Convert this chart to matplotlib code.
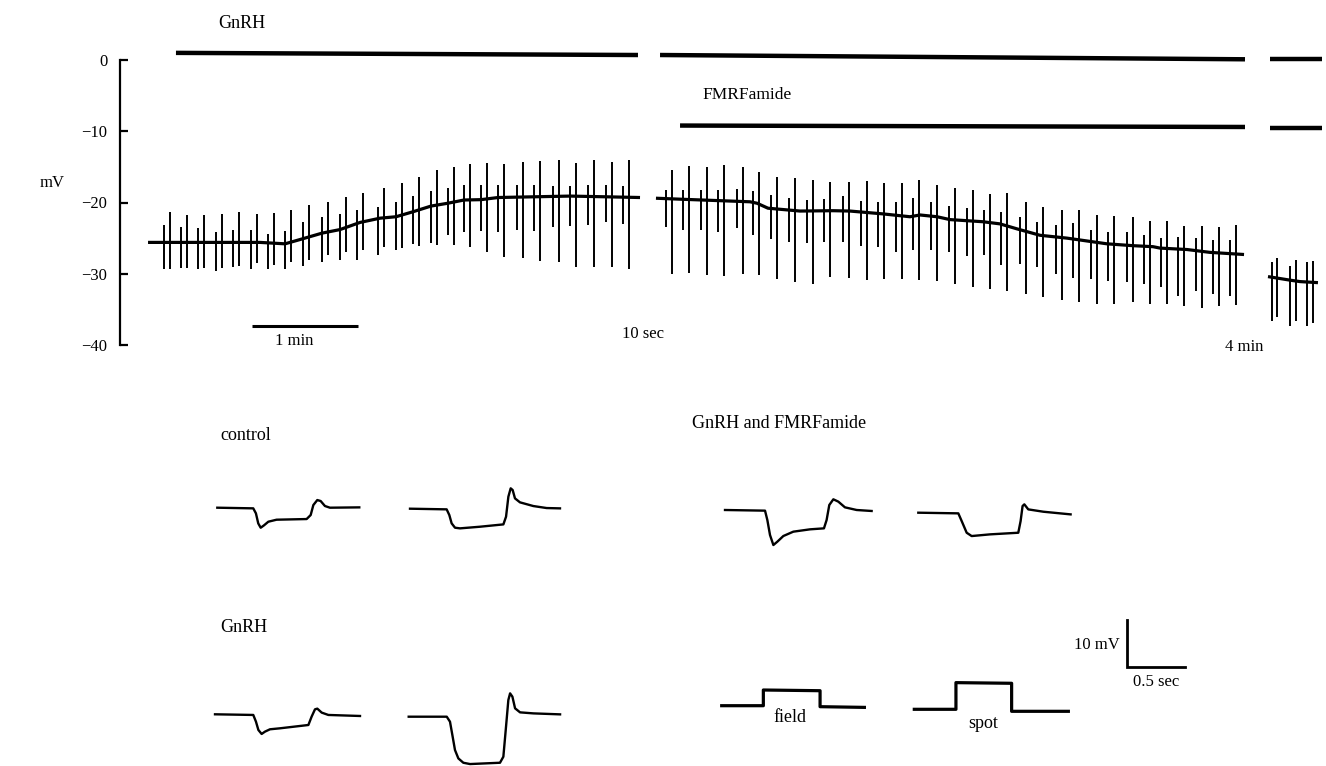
import matplotlib
matplotlib.use("Agg")
import matplotlib.pyplot as plt
import numpy as np

plt.rcParams['font.family'] = ['Liberation Serif', 'DejaVu Serif']
plt.rcParams['axes.unicode_minus'] = True

W, H = 1326, 766

# --- top record: membrane potential (mV) vs time (min, as laid out) ---
y_ticks = [0, -10, -20, -30, -40]

# segment 1 (GnRH)
seg1_field_t = [0.411, 0.570, 0.729, 0.897, 1.056, 1.224, 1.383, 1.542, 1.710, 1.888,
                2.056, 2.215, 2.411, 2.579, 2.741, 2.907, 3.063, 3.215, 3.374, 3.536,
                3.707, 3.869, 4.044, 4.206, 4.377, 4.542, 4.704]
seg1_spot_t = [0.467, 0.626, 0.785, 0.953, 1.112, 1.280, 1.439, 1.598, 1.766, 1.944,
               2.112, 2.271, 2.467, 2.635, 2.797, 2.963, 3.119, 3.271, 3.430, 3.592,
               3.763, 3.925, 4.100, 4.262, 4.433, 4.598, 4.760]
seg1_field_top = [-23.2, -23.5, -23.6, -24.1, -23.8, -23.9, -24.4, -24.0, -22.8, -22.1,
                  -21.6, -21.1, -20.6, -19.9, -19.1, -18.4, -17.9, -17.6, -17.6, -17.6,
                  -17.5, -17.6, -17.7, -17.7, -17.6, -17.6, -17.7]
seg1_field_bot = [-29.4, -29.2, -29.3, -29.6, -29.0, -29.4, -29.4, -29.4, -28.9, -28.3,
                  -28.0, -28.0, -27.3, -26.6, -25.8, -25.7, -24.6, -24.2, -24.0, -24.1,
                  -23.8, -24.0, -23.4, -23.3, -23.2, -22.8, -23.0]
seg1_spot_top = [-21.3, -21.7, -21.8, -21.6, -21.4, -21.6, -21.5, -21.1, -20.4, -19.9,
                 -19.2, -18.6, -18.0, -17.3, -16.4, -15.5, -15.0, -14.6, -14.5, -14.6,
                 -14.3, -14.2, -14.1, -14.4, -14.1, -14.3, -14.1]
seg1_spot_bot = [-29.4, -29.2, -29.2, -29.2, -28.9, -28.5, -28.8, -28.3, -28.1, -27.4,
                 -26.9, -26.7, -26.2, -26.4, -26.1, -26.0, -26.0, -26.2, -27.0, -27.6,
                 -27.8, -28.2, -28.3, -29.0, -29.0, -29.0, -29.3]
seg1_base_t = [0.262, 0.748, 1.308, 1.542, 1.682, 1.888, 2.056, 2.243, 2.430, 2.579,
               2.738, 2.907, 3.065, 3.215, 3.374, 3.533, 3.869, 4.206, 4.542, 4.860]
seg1_base_v = [-25.6, -25.6, -25.6, -25.8, -25.2, -24.3, -23.8, -22.8, -22.2, -22.0,
               -21.3, -20.5, -20.1, -19.65, -19.6, -19.3, -19.2, -19.1, -19.2, -19.3]

# segment 2 (GnRH + FMRFamide)
seg2_field_t = [5.100, 5.264, 5.430, 5.592, 5.764, 5.919, 6.084, 6.255, 6.423, 6.582,
                6.754, 6.923, 7.084, 7.250, 7.414, 7.579, 7.748, 7.913, 8.075, 8.234,
                8.411, 8.567, 8.745, 8.909, 9.072, 9.237, 9.409, 9.570, 9.726, 9.885,
                10.053, 10.218, 10.374]
seg2_spot_t = [5.156, 5.320, 5.486, 5.648, 5.820, 5.975, 6.140, 6.311, 6.479, 6.638,
               6.810, 6.979, 7.140, 7.306, 7.470, 7.635, 7.804, 7.969, 8.131, 8.290,
               8.467, 8.623, 8.801, 8.965, 9.128, 9.293, 9.465, 9.626, 9.782, 9.941,
               10.109, 10.274, 10.430]
seg2_field_top = [-18.3, -18.2, -18.3, -18.2, -18.1, -18.4, -18.9, -19.3, -19.7, -19.5,
                  -19.1, -19.8, -19.9, -19.9, -19.4, -19.9, -20.5, -20.8, -21.0, -21.4,
                  -22.1, -22.8, -23.1, -22.9, -23.8, -24.1, -24.2, -24.5, -25.0, -24.9,
                  -25.0, -25.2, -25.2]
seg2_field_bot = [-23.5, -23.8, -23.8, -24.1, -23.6, -24.6, -25.1, -25.5, -25.7, -25.6,
                  -25.6, -26.1, -26.3, -26.9, -26.7, -26.6, -26.9, -27.5, -27.3, -28.8,
                  -28.6, -29.1, -30.0, -30.6, -30.8, -31.0, -31.1, -31.4, -31.8, -33.1,
                  -32.4, -32.8, -33.1]
seg2_spot_top = [-15.4, -14.9, -15.0, -14.8, -15.0, -15.7, -16.4, -16.6, -16.8, -17.1,
                 -17.1, -17.0, -17.2, -17.3, -16.9, -17.6, -17.9, -18.3, -18.8, -18.7,
                 -19.9, -20.7, -21.0, -21.1, -21.8, -21.9, -22.1, -22.6, -22.6, -23.3,
                 -23.3, -23.5, -23.2]
seg2_spot_bot = [-30.0, -29.9, -30.2, -30.3, -30.1, -30.2, -30.8, -31.2, -31.4, -30.4,
                 -30.6, -30.9, -30.8, -30.8, -30.9, -31.0, -31.4, -31.8, -32.1, -32.4,
                 -32.8, -33.2, -33.7, -33.9, -34.3, -34.2, -33.9, -34.2, -34.3, -34.5,
                 -34.8, -34.5, -34.4]
seg2_base_t = [5.009, 5.262, 5.888, 5.953, 6.056, 6.355, 6.664, 6.822, 7.131, 7.383,
               7.477, 7.636, 7.757, 8.065, 8.224, 8.383, 8.598, 8.850, 9.037, 9.224,
               9.467, 9.654, 9.720, 9.972, 10.187, 10.505]
seg2_base_v = [-19.4, -19.55, -19.9, -20.1, -20.8, -21.2, -21.15, -21.2, -21.6, -22.0,
               -21.75, -22.0, -22.4, -22.7, -23.0, -23.7, -24.6, -25.0, -25.4, -25.8,
               -26.06, -26.2, -26.4, -26.6, -27.0, -27.3]

# segment 3 (after 4 min)
seg3_field_t = [10.764, 10.935, 11.093]
seg3_spot_t = [10.816, 10.988, 11.152]
seg3_field_top = [-28.3, -28.9, -28.4]
seg3_field_bot = [-36.7, -37.4, -37.4]
seg3_spot_top = [-27.8, -28.0, -28.2]
seg3_spot_bot = [-36.0, -36.7, -36.9]
seg3_base_t = [10.729, 10.935, 11.028, 11.196]
seg3_base_v = [-30.4, -30.9, -31.1, -31.25]

# application bars (start, end, level start, level end)
gnrh_bars = [(0.523, 4.841, 1.0, 0.7), (5.047, 10.514, 0.7, 0.1), (10.748, 11.234, 0.1, 0.1)]
fmrf_bars = [(5.234, 10.514, -9.2, -9.4), (10.748, 11.234, -9.5, -9.5)]
min_bar = (1.234, 2.224, -37.3)

# --- bottom panels: single responses (t in s, v in mV relative to rest) ---
ctrl1_t = [0, 0.310, 0.333, 0.353, 0.374, 0.402, 0.440, 0.511, 0.770, 0.805, 0.828, 0.862, 0.891, 0.928, 0.971, 1.224]
ctrl1_v = [0, -0.14, -1.21, -3.36, -4.29, -3.79, -3.0, -2.57, -2.43, -1.57, 0.57, 1.64, 1.43, 0.36, 0, 0.07]
ctrl2_t = [0, 0.316, 0.339, 0.359, 0.388, 0.431, 0.603, 0.805, 0.828, 0.848, 0.868, 0.885, 0.905, 0.948, 1.063, 1.178, 1.293]
ctrl2_v = [0, -0.14, -1.36, -3.14, -4.07, -4.21, -3.86, -3.36, -1.71, 2.57, 4.36, 4.0, 2.21, 1.36, 0.57, 0.14, 0.07]
gnrh1_t = [0, 0.330, 0.353, 0.374, 0.402, 0.431, 0.474, 0.560, 0.805, 0.833, 0.862, 0.882, 0.920, 0.977, 1.250]
gnrh1_v = [0, -0.14, -1.57, -3.36, -4.21, -3.71, -3.21, -3.0, -2.29, -0.5, 1.07, 1.21, 0.36, -0.14, -0.36]
gnrh2_t = [0, 0.328, 0.356, 0.379, 0.399, 0.428, 0.471, 0.529, 0.787, 0.816, 0.839, 0.859, 0.874, 0.894, 0.917, 0.960, 1.075, 1.305]
gnrh2_v = [0, 0, -1.07, -4.29, -7.14, -8.93, -9.86, -10.14, -9.86, -8.57, -2.14, 3.57, 5.0, 4.29, 1.79, 0.93, 0.71, 0.5]
both1_t = [0, 0.345, 0.365, 0.388, 0.417, 0.451, 0.503, 0.589, 0.733, 0.853, 0.876, 0.899, 0.934, 0.977, 1.034, 1.135, 1.264]
both1_v = [0, -0.14, -2.14, -5.36, -7.5, -6.79, -5.57, -4.64, -4.14, -3.93, -2.14, 1.07, 2.29, 1.79, 0.57, 0, -0.21]
both2_t = [0, 0.345, 0.374, 0.417, 0.460, 0.618, 0.862, 0.882, 0.899, 0.914, 0.948, 1.078, 1.313]
both2_v = [0, -0.14, -1.79, -4.29, -5.0, -4.64, -4.29, -1.79, 1.43, 1.79, 0.71, 0.21, -0.36]
field_t = [0, 0.359, 0.359, 0.848, 0.848, 1.230]
field_v = [0, 0, 3.36, 3.21, -0.21, -0.36]
spot_t = [0, 0.359, 0.359, 0.839, 0.839, 1.328]
spot_v = [0, 0, 5.71, 5.57, -0.43, -0.43]
scale_mv = 10
scale_s = 0.5


def fx(x):
    return x / W


def fy(y):
    return 1 - y / H


fig = plt.figure(figsize=(W / 100, H / 100), dpi=100)

# top axes: 0 mV at y=60 px, -40 mV at y=345 px, left spine at x=120 px, 107 px per min
ax = fig.add_axes([fx(120), fy(345), fx(W - 120), (345 - 60) / H])
ax.set_xlim(0, (W - 120) / 107)
ax.set_ylim(-40, 0)
for s in ['top', 'right', 'bottom']:
    ax.spines[s].set_visible(False)
ax.spines['left'].set_linewidth(1.6)
ax.set_xticks([])
ax.set_yticks(y_ticks)
ax.tick_params(axis='y', direction='in', length=5.5, width=1.6, pad=9, labelsize=12)
ax.patch.set_visible(False)

k = dict(color='black', clip_on=False)
for ft, fb, ftop, st, sb, stop, bt, bv in [
        (seg1_field_t, seg1_field_bot, seg1_field_top, seg1_spot_t, seg1_spot_bot, seg1_spot_top, seg1_base_t, seg1_base_v),
        (seg2_field_t, seg2_field_bot, seg2_field_top, seg2_spot_t, seg2_spot_bot, seg2_spot_top, seg2_base_t, seg2_base_v),
        (seg3_field_t, seg3_field_bot, seg3_field_top, seg3_spot_t, seg3_spot_bot, seg3_spot_top, seg3_base_t, seg3_base_v)]:
    ax.vlines(ft, fb, ftop, lw=1.4, **k)
    ax.vlines(st, sb, stop, lw=1.4, **k)
    ax.plot(bt, bv, lw=2.3, solid_capstyle='butt', **k)

for x0, x1, y0, y1 in gnrh_bars + fmrf_bars:
    ax.plot([x0, x1], [y0, y1], lw=3.2, solid_capstyle='butt', **k)
ax.plot([min_bar[0], min_bar[1]], [min_bar[2], min_bar[2]], lw=2.2, solid_capstyle='butt', **k)

tk = dict(fontsize=13, color='black')
fig.text(fx(218), fy(24), 'GnRH', va='center', ha='left', **tk)
fig.text(fx(702), fy(95), 'FMRFamide', va='center', ha='left', fontsize=12.5)
fig.text(fx(40), fy(183), 'mV', va='center', ha='left', fontsize=12)
fig.text(fx(294), fy(341), '1 min', va='center', ha='center', fontsize=12)
fig.text(fx(622), fy(334), '10 sec', va='center', ha='left', fontsize=12)
fig.text(fx(1225), fy(347), '4 min', va='center', ha='left', fontsize=12)

# bottom axes: 116 px per s, 4.67 px per mV, top edge at y=390 px
bx = fig.add_axes([0, 0, 1, (H - 390) / H])
bx.set_xlim(0, W / 116)
bx.set_ylim(-(H - 390) / 4.67, 0)
bx.axis('off')


def org(px, py):
    return px / 116, -(py - 390) / 4.67


traces = [((217.3, 507.7), ctrl1_t, ctrl1_v, 1.7),
          ((410.0, 508.7), ctrl2_t, ctrl2_v, 1.7),
          ((215.0, 714.3), gnrh1_t, gnrh1_v, 1.7),
          ((408.7, 716.7), gnrh2_t, gnrh2_v, 1.7),
          ((725.0, 510.0), both1_t, both1_v, 1.7),
          ((918.3, 512.7), both2_t, both2_v, 1.7),
          ((721.7, 705.7), field_t, field_v, 2.3),
          ((914.3, 709.3), spot_t, spot_v, 2.3)]
for (px, py), t, v, lw in traces:
    ox, oy = org(px, py)
    bx.plot(ox + np.array(t), oy + np.array(v), color='black', lw=lw,
            solid_joinstyle='round', clip_on=False)

sx, sy = org(1127, 666.7)
bx.plot([sx, sx, sx + scale_s], [sy + scale_mv, sy, sy], color='black', lw=2.0,
        solid_joinstyle='miter')

fig.text(fx(220), fy(436), 'control', va='center', ha='left', **tk)
fig.text(fx(220), fy(627), 'GnRH', va='center', ha='left', **tk)
fig.text(fx(692), fy(424), 'GnRH and FMRFamide', va='center', ha='left', **tk)
fig.text(fx(790), fy(718), 'field', va='center', ha='center', **tk)
fig.text(fx(983), fy(724), 'spot', va='center', ha='center', **tk)
fig.text(fx(1120), fy(645), '10 mV', va='center', ha='right', fontsize=12)
fig.text(fx(1156), fy(682), '0.5 sec', va='center', ha='center', fontsize=12)

fig.savefig('out.png', dpi=100)
